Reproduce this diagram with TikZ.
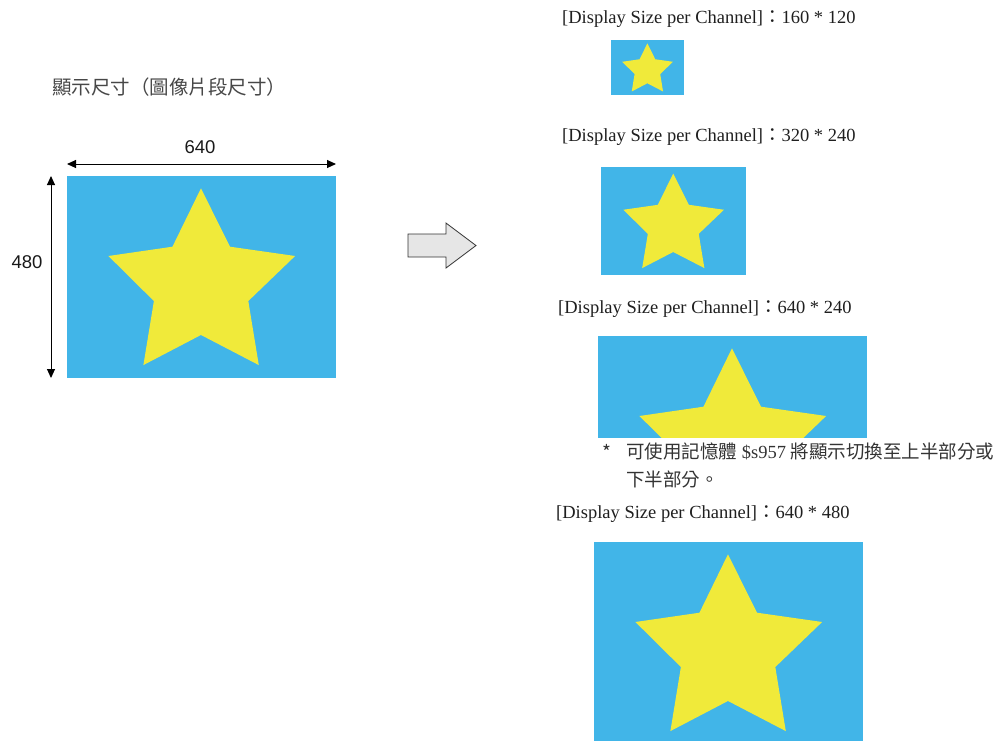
\documentclass[tikz,border=0pt]{standalone}
\usepackage{fontspec}
\setmainfont{Liberation Serif}
\newfontfamily\cjk{Noto Sans CJK TC}
\newfontfamily\arial{Liberation Sans}
\usetikzlibrary{arrows.meta}
\definecolor{skyb}{HTML}{41B5E8}
\definecolor{staryel}{HTML}{F0EA3A}
\definecolor{arrowgray}{HTML}{E6E6E6}
\tikzset{
  panel/.pic={
    \fill[skyb] (0,0) rectangle (1,1);
    \fill[staryel] (0.498,0.061) -- (0.606,0.350) -- (0.848,0.396) -- (0.674,0.619)
      -- (0.713,0.936) -- (0.498,0.787) -- (0.284,0.936) -- (0.323,0.619)
      -- (0.154,0.396) -- (0.392,0.350) -- cycle;
  },
  lbl/.style={anchor=west, inner sep=0pt, font=\fontsize{18.5}{20}\selectfont, text=black!88},
  note/.style={anchor=west, inner sep=0pt, font=\fontsize{18.5}{20}\selectfont, text=black!80},
  dimlbl/.style={inner sep=0pt, font=\arial\fontsize{18.5}{20}\selectfont, text=black!90},
  dim/.style={{Triangle[length=9pt,width=8pt]}-{Triangle[length=9pt,width=8pt]}, line width=1pt},
  blockarrow/.style={fill=arrowgray, draw=black!80, line width=0.8pt, line join=miter},
}
\begin{document}
\begin{tikzpicture}[x=1pt,y=-1pt]
\useasboundingbox (0,0) rectangle (1004,740);

% title
\node[anchor=west, inner sep=0pt, font=\cjk\fontsize{19.5}{22}\selectfont, text=black!72] (title) at (52,87) {顯示尺寸（圖像片段尺寸）};

% main panel
\begin{scope}[shift={(67,176)}, x=269pt, y=-202pt]
  \pic {panel};
\end{scope}
\coordinate (hL) at (67,164);
\coordinate (hR) at (336,164);
\draw[dim] (hL) -- (hR);
\node[dimlbl] (w640) at (200,147) {640};
\coordinate (vT) at (51,176);
\coordinate (vB) at (51,378);
\draw[dim] (vT) -- (vB);
\node[dimlbl] (h480) at (27,262) {480};

% block arrow
\draw[blockarrow] (408,234) -- (446,234) -- (446,223) -- (476,245.5) -- (446,268) -- (446,257) -- (408,257) -- cycle;

% labels
\node[lbl] (l1) at (562,19) {[Display Size per Channel]{\cjk ：}160 * 120};
\node[lbl] (l2) at (562,137) {[Display Size per Channel]{\cjk ：}320 * 240};
\node[lbl] (l3) at (558,309) {[Display Size per Channel]{\cjk ：}640 * 240};
\node[lbl] (l4) at (556,514) {[Display Size per Channel]{\cjk ：}640 * 480};

% panel 1
\begin{scope}[shift={(611,40)}, x=73pt, y=-55pt]
  \pic {panel};
\end{scope}
% panel 2
\begin{scope}[shift={(601,167)}, x=145pt, y=-108pt]
  \pic {panel};
\end{scope}
% panel 3 (top half)
\begin{scope}[shift={(598,336)}, x=269pt, y=-202pt]
  \clip (0,0) rectangle (1,0.5);
  \pic {panel};
\end{scope}
% panel 4
\begin{scope}[shift={(594,542)}, x=269pt, y=-202pt]
  \pic {panel};
\end{scope}

% note
\node[note, font=\cjk\fontsize{19}{20}\selectfont] (star) at (602,452) {*};
\node[note] (n1) at (626,451) {{\cjk 可使用記憶體} \$s957 {\cjk 將顯示切換至上半部分或}};
\node[note] (n2) at (626,479) {{\cjk 下半部分。}};
\end{tikzpicture}
\end{document}
